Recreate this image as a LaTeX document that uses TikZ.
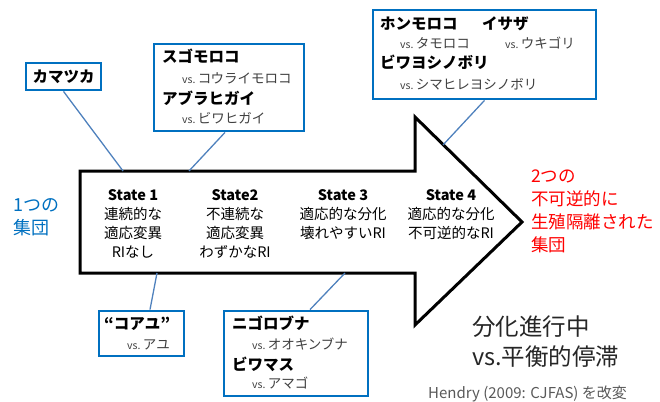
\documentclass[tikz,border=0pt]{standalone}
\usepackage{fontspec}
\setmainfont{Noto Sans CJK JP}
\usetikzlibrary{calc}
\definecolor{boxblue}{HTML}{0070C0}
\definecolor{lineblue}{HTML}{4F81BD}
\definecolor{vsgray}{HTML}{404040}
\definecolor{refgray}{HTML}{595959}
\newcommand{\vsmark}{{\fontsize{10.5}{10.5}\selectfont vs.}\,}
\begin{document}
\begin{tikzpicture}[x=1pt,y=-1pt,
  fishbox/.style={draw=boxblue, line width=2.8pt, fill=white, inner sep=0pt},
  conn/.style={draw=lineblue, line width=1.3pt},
  bigarrow/.style={draw=black, line width=3pt, line join=miter, fill=white},
  sp/.style={font=\bfseries\fontsize{15.5}{15.5}\selectfont, anchor=base west, inner sep=0pt},
  vs/.style={font=\fontsize{13.5}{13.5}\selectfont, text=vsgray, anchor=base west, inner sep=0pt},
  state/.style={align=center, font=\fontsize{14.5}{19}\selectfont, inner sep=0pt, anchor=north},
]
\useasboundingbox (0,0) rectangle (660,401);

% big arrow
\coordinate (p1) at (80,171);
\coordinate (p2) at (415,171);
\coordinate (p3) at (415,117);
\coordinate (p4) at (522,222);
\coordinate (p5) at (415,325);
\coordinate (p6) at (415,273);
\coordinate (p7) at (80,273);
\draw[bigarrow] (p1) -- (p2) -- (p3) -- (p4) -- (p5) -- (p6) -- (p7) -- cycle;

% connector end points on the arrow
\coordinate (c1) at (123,171);
\coordinate (c2) at (189,171);
\coordinate (c3) at (443,145);
\coordinate (c4) at (157,273);
\coordinate (c5) at (345,273);

% boxes
\node[fishbox, minimum width=75pt, minimum height=27pt, font=\bfseries\fontsize{15.5}{15.5}\selectfont] (kama) at (63.5,76.5) {カマツカ};
\node[fishbox, minimum width=150pt, minimum height=87pt] (sugo) at (229,87.5) {};
\node[fishbox, minimum width=223pt, minimum height=89pt] (hon) at (484.5,54.5) {};
\node[fishbox, minimum width=85pt, minimum height=45pt] (koayu) at (141.5,333.5) {};
\node[fishbox, minimum width=144pt, minimum height=85pt] (nigo) at (296,353.5) {};

% connectors
\draw[conn] (kama.south) -- (c1);
\draw[conn] ($(sugo.south)+(-4,0)$) -- (c2);
\draw[conn] (hon.south) -- (c3);
\draw[conn] ($(koayu.north)+(8.5,0)$) -- (c4);
\draw[conn] ($(nigo.north)+(14,0)$) -- (c5);

% box texts
\node[sp] (t1) at (162,63) {スゴモロコ};
\node[vs] (t2) at (182,84) {\vsmark コウライモロコ};
\node[sp] (t3) at (162,104) {アブラヒガイ};
\node[vs] (t4) at (182,123) {\vsmark ビワヒガイ};

\node[sp] (h1) at (380,30) {ホンモロコ};
\node[sp] (h2) at (482,30) {イサザ};
\node[vs] (h3) at (400,49) {\vsmark タモロコ};
\node[vs] (h4) at (505,49) {\vsmark ウキゴリ};
\node[sp] (h5) at (380,69) {ビワヨシノボリ};
\node[vs] (h6) at (400,89) {\vsmark シマヒレヨシノボリ};

\node[sp] (k1) at (104,329) {“コアユ”};
\node[vs] (k2) at (127,349) {\vsmark アユ};

\node[sp] (n1) at (232,329) {ニゴロブナ};
\node[vs] (n2) at (252,349) {\vsmark オオキンブナ};
\node[sp] (n3) at (232,370) {ビワマス};
\node[vs] (n4) at (252,388) {\vsmark アマゴ};

% states
\node[state] (s1) at (133,189) {\textbf{State 1}\\連続的な\\ 適応変異\\RIなし};
\node[state] (s2) at (235,189) {\textbf{State2}\\不連続な\\適応変異\\わずかなRI};
\node[state] (s3) at (343,189) {\textbf{State 3}\\適応的な分化\\壊れやすいRI};
\node[state] (s4) at (451,189) {\textbf{State 4}\\適応的な分化\\不可逆的なRI};

% side texts
\node[anchor=north west, inner sep=0pt, align=left, text=boxblue,
  font=\fontsize{18}{23}\selectfont] (one) at (13,198) {1つの\\集団};
\node[anchor=north west, inner sep=0pt, align=left, text=red,
  font=\fontsize{17.5}{23}\selectfont] (two) at (531,170) {2つの\\不可逆的に\\生殖隔離された\\集団};
\node[anchor=north west, inner sep=0pt, align=left, text=black!85,
  font=\fontsize{23.5}{30}\selectfont] (prog) at (472,316) {分化進行中\\vs.平衡的停滞};
\node[anchor=base west, inner sep=0pt, text=refgray,
  font=\fontsize{15}{15}\selectfont] (ref) at (428,398) {Hendry (2009: CJFAS) を改変};
\end{tikzpicture}
\end{document}
